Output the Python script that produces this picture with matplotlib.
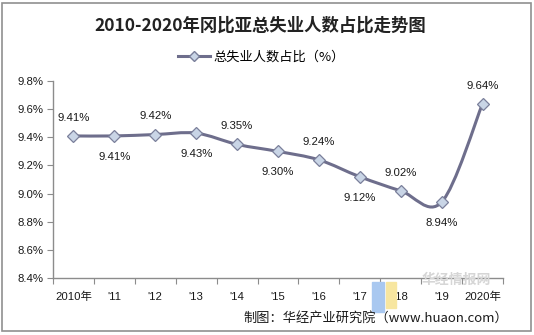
import numpy as np
import matplotlib.pyplot as plt
from matplotlib.path import Path
from matplotlib.patches import PathPatch, Rectangle
from matplotlib.lines import Line2D

plt.rcParams['font.family'] = ['Liberation Sans', 'Noto Sans CJK SC', 'DejaVu Sans']

# --------------------------------- #

years = ['2010年', "'11", "'12", "'13", "'14", "'15", "'16", "'17", "'18", "'19", '2020年']
rate = [9.41, 9.41, 9.42, 9.43, 9.35, 9.30, 9.24, 9.12, 9.02, 8.94, 9.64]
label_above = [True, False, True, False, True, False, True, False, True, False, True]

title = '2010-2020年冈比亚总失业人数占比走势图'
series_name = '总失业人数占比（%）'
credit = '制图：华经产业研究院（www.huaon.com）'

line_color = '#6e6e8c'
marker_face = '#c9d5e6'
marker_edge = '#7a7f9a'
axis_color = '#8c8c8c'

# --------------------------------- #

fig = plt.figure(figsize=(5.34, 3.35), dpi=100)
ax = fig.add_axes([0.0993, 0.170, 0.8427, 0.588])

x = np.arange(len(rate))
y = np.array(rate)

# smoothed line (bezier through the points, like excel "smoothed line")
verts = [(x[0], y[0])]
codes = [Path.MOVETO]
n = len(x)
for i in range(n - 1):
    p0 = np.array([x[max(i - 1, 0)], y[max(i - 1, 0)]])
    p1 = np.array([x[i], y[i]])
    p2 = np.array([x[i + 1], y[i + 1]])
    p3 = np.array([x[min(i + 2, n - 1)], y[min(i + 2, n - 1)]])
    c1 = p1 + (p2 - p0) / 6
    c2 = p2 - (p3 - p1) / 6
    verts += [tuple(c1), tuple(c2), tuple(p2)]
    codes += [Path.CURVE4] * 3
ax.add_patch(PathPatch(Path(verts, codes), facecolor='none', edgecolor=line_color,
                       lw=2.2, capstyle='round', joinstyle='round', zorder=2))
ax.plot(x, y, ls='none', marker='D', ms=6, mfc=marker_face, mec=marker_edge, mew=0.9, zorder=3)

for xi, yi, up in zip(x, y, label_above):
    off = 13 if up else -15
    ax.annotate('{:.2f}%'.format(yi), (xi, yi), xytext=(0, off), textcoords='offset points',
                ha='center', va='center', fontsize=8.2, color='#1a1a1a')

ax.set_xlim(-0.5, 10.5)
ax.set_ylim(8.4, 9.8)
ax.set_yticks(np.arange(8.4, 9.81, 0.2))
ax.set_yticklabels(['{:.1f}%'.format(v) for v in np.arange(8.4, 9.81, 0.2)])
ax.set_xticks(np.arange(-0.5, 10.6, 1))
ax.set_xticklabels([])
ax.set_xticks(x, minor=True)
ax.set_xticklabels(years, minor=True)
ax.tick_params(axis='x', which='minor', length=0, pad=10, labelsize=8.2, labelcolor='#1a1a1a')
ax.tick_params(axis='x', which='major', length=4, direction='out', color=axis_color)
ax.tick_params(axis='y', length=4, direction='out', color=axis_color, labelsize=8.2,
               labelcolor='#1a1a1a', pad=3)
for s in ['top', 'right']:
    ax.spines[s].set_visible(False)
for s in ['left', 'bottom']:
    ax.spines[s].set_color(axis_color)
    ax.spines[s].set_linewidth(1)

# --------------------------------- #

fig.text(0.487, 0.925, title, ha='center', va='center', fontsize=12.5, fontweight='bold',
         color='#222222', family=['Noto Sans CJK SC'])

handle = Line2D([], [], color=line_color, lw=2.2, marker='D', ms=5, mfc=marker_face, mec=marker_edge)
fig.legend([handle], [series_name], loc='center', bbox_to_anchor=(0.49, 0.83), frameon=False,
           handlelength=2.4, handletextpad=0.3, prop={'family': ['Noto Sans CJK SC'], 'size': 9.5})

# watermark
fig.patches.append(Rectangle((372 / 534, 1 - 312 / 335), 12 / 534, 30 / 335, transform=fig.transFigure,
                             color='#a9c8f0', zorder=0))
fig.patches.append(Rectangle((386 / 534, 1 - 308 / 335), 10 / 534, 26 / 335, transform=fig.transFigure,
                             color='#f7e6a0', zorder=0))
fig.text(0.855, 1 - 280 / 335, '华经情报网', ha='center', va='center', fontsize=10, fontweight='bold',
         color='#d6d6d6', family=['Noto Sans CJK SC'], zorder=0)

fig.text(0.951, 0.05, credit, ha='right', va='center', fontsize=9.5, color='#1a1a1a',
         family=['Noto Sans CJK SC', 'DejaVu Sans'])

fig.patches.append(Rectangle((0.004, 0.012), 0.99, 0.98, transform=fig.transFigure,
                             fill=False, edgecolor='#909090', lw=1.2))

fig.savefig('out.png', dpi=100)
